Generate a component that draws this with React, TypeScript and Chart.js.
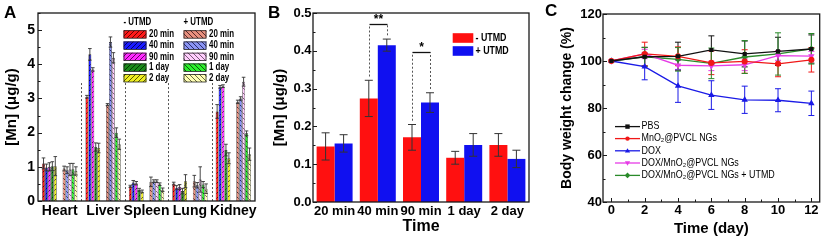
import React, { useEffect, useRef } from 'react';
import { Chart, registerables } from 'chart.js';
Chart.register(...registerables);

const FONT = "'Liberation Sans', Arial, Helvetica, sans-serif";

// ---------------- Panel A data ----------------
const organLabels = ['Heart', 'Liver', 'Spleen', 'Lung', 'Kidney'];
const timeNames = ['20 min', '40 min', '90 min', '1 day', '2 day'];

const minus20 = [1.10, 3.05, 0.43, 0.51, 2.62];
const minus40 = [0.98, 4.29, 0.54, 0.39, 3.34];
const minus90 = [1.00, 3.85, 0.52, 0.41, 3.36];
const minus1d = [1.02, 1.58, 0.33, 0.29, 1.49];
const minus2d = [1.02, 1.55, 0.28, 0.58, 1.25];
const minus20Err = [0.16, 0.04, 0.03, 0.04, 0.20];
const minus40Err = [0.10, 0.17, 0.06, 0.06, 0.04];
const minus90Err = [0.12, 0.05, 0.05, 0.07, 0.04];
const minus1dErr = [0.13, 0.12, 0.04, 0.08, 0.17];
const minus2dErr = [0.28, 0.14, 0.04, 0.19, 0.16];

const plus20 = [0.95, 2.82, 0.56, 0.58, 2.90];
const plus40 = [0.90, 4.65, 0.58, 0.46, 3.00];
const plus90 = [0.92, 4.19, 0.58, 0.63, 3.49];
const plus1d = [0.93, 2.00, 0.49, 0.48, 1.98];
const plus2d = [0.88, 1.66, 0.33, 0.36, 1.37];
const plus20Err = [0.07, 0.03, 0.14, 0.17, 0.05];
const plus40Err = [0.10, 0.15, 0.04, 0.08, 0.05];
const plus90Err = [0.18, 0.15, 0.04, 0.37, 0.13];
const plus1dErr = [0.17, 0.14, 0.04, 0.09, 0.07];
const plus2dErr = [0.12, 0.15, 0.05, 0.14, 0.18];

const minusSeries = [minus20, minus40, minus90, minus1d, minus2d];
const minusErrors = [minus20Err, minus40Err, minus90Err, minus1dErr, minus2dErr];
const plusSeries = [plus20, plus40, plus90, plus1d, plus2d];
const plusErrors = [plus20Err, plus40Err, plus90Err, plus1dErr, plus2dErr];

const minusFill = ['#ff1a1a', '#1a1aff', '#ff2bff', '#1a8a1a', '#eeee22'];
const minusHatch = ['#6a0000', '#00006a', '#6a006a', '#003a00', '#5a5a00'];
const plusFill = ['#e8907e', '#8a94f4', '#ffcdfc', '#2cf02c', '#ffffb4'];
const plusHatch = ['#5a2a2a', '#2a2a6a', '#7a5a7a', '#0a5a0a', '#6a6a40'];

// ---------------- Panel B data ----------------
const bMinus = [0.147, 0.274, 0.171, 0.117, 0.151];
const bMinusErr = [0.036, 0.048, 0.034, 0.017, 0.030];
const bPlus = [0.155, 0.415, 0.263, 0.151, 0.114];
const bPlusErr = [0.023, 0.016, 0.026, 0.030, 0.023];
const sigIndex = [1, 2];
const sigText = ['**', '*'];
const sigLevel = [0.470, 0.397];

// ---------------- Panel C data ----------------
const days = [0, 2, 4, 6, 8, 10, 12];
const cTicks = [0, 2, 4, 6, 8, 10, 12];
const pbs = [100, 101.8, 102.0, 104.7, 103.0, 104.1, 105.1];
const pbsErr = [0, 4, 6, 6, 5.5, 6, 6];
const mno2 = [100, 103.0, 102.0, 99.2, 99.8, 98.8, 100.5];
const mno2Err = [0, 5, 4, 5, 5, 5.5, 5.2];
const dox = [100, 97.6, 89.4, 85.5, 83.5, 83.3, 82.0];
const doxErr = [0, 5.6, 7.0, 6.1, 5.8, 4.9, 5.2];
const doxMno2 = [100, 103.0, 98.2, 97.9, 98.4, 102.3, 102.1];
const doxMno2Err = [0, 2, 2, 2, 2.5, 2, 2];
const doxMno2Utmd = [100, 101.8, 100.7, 99.0, 101.7, 103.0, 105.2];
const doxMno2UtmdErr = [0, 4, 5, 6.5, 7, 9, 6.5];

const cLabels = ['PBS', 'MnO\u2082@PVCL NGs', 'DOX', 'DOX/MnO\u2082@PVCL NGs', 'DOX/MnO\u2082@PVCL NGs + UTMD'];
const cColors = ['#111111', '#f01818', '#1a1ae6', '#e63ce6', '#2a8a2a'];
const cStyles = ['rect', 'circle', 'triangle', 'triangleDown', 'rectRot'];
const cValues = [pbs, mno2, dox, doxMno2, doxMno2Utmd];
const cErrors = [pbsErr, mno2Err, doxErr, doxMno2Err, doxMno2UtmdErr];

// ---------------- helpers ----------------
function makePattern(bg: string, line: string, dir: number): CanvasPattern | string {
  const s = 5;
  const c = document.createElement('canvas');
  c.width = s; c.height = s;
  const g = c.getContext('2d');
  if (!g) return bg;
  g.fillStyle = bg; g.fillRect(0, 0, s, s);
  g.strokeStyle = line; g.lineWidth = 1;
  g.beginPath();
  if (dir > 0) {
    g.moveTo(0, s); g.lineTo(s, 0);
    g.moveTo(-1, 1); g.lineTo(1, -1);
    g.moveTo(s - 1, s + 1); g.lineTo(s + 1, s - 1);
  } else {
    g.moveTo(0, 0); g.lineTo(s, s);
    g.moveTo(s - 1, -1); g.lineTo(s + 1, 1);
    g.moveTo(-1, s - 1); g.lineTo(1, s + 1);
  }
  g.stroke();
  return g.createPattern(c, 'repeat') || bg;
}

function squeezedText(ctx: CanvasRenderingContext2D, text: string, x: number, y: number, font: string, sx: number, align: CanvasTextAlign = 'left') {
  ctx.save();
  ctx.font = font;
  ctx.fillStyle = '#000';
  ctx.textBaseline = 'middle';
  ctx.textAlign = align;
  ctx.translate(x, y);
  ctx.scale(sx, 1);
  ctx.fillText(text, 0, 0);
  ctx.restore();
}

function panelLetter(ctx: CanvasRenderingContext2D, t: string, x: number, y: number) {
  ctx.save();
  ctx.font = `bold 17px ${FONT}`;
  ctx.fillStyle = '#000';
  ctx.textBaseline = 'alphabetic';
  ctx.textAlign = 'left';
  ctx.fillText(t, x, y);
  ctx.restore();
}

function frameAndTicks(chart: any, yMinor: number, yMajor: number, xMajor: number[] = [], xMinor: number[] = []) {
  const { ctx, chartArea: a } = chart;
  const ys = chart.scales.y, xs = chart.scales.x;
  ctx.save();
  ctx.strokeStyle = '#1a1a1a';
  ctx.lineWidth = 1.3;
  ctx.strokeRect(a.left, a.top, a.right - a.left, a.bottom - a.top);
  ctx.lineWidth = 1;
  ctx.beginPath();
  const n = Math.round((ys.max - ys.min) / yMinor);
  for (let k = 0; k <= n; k++) {
    const v = ys.min + k * yMinor;
    const r = v / yMajor;
    const major = Math.abs(r - Math.round(r)) < 1e-6;
    const p = Math.round(ys.getPixelForValue(v)) + 0.5;
    ctx.moveTo(a.left, p); ctx.lineTo(a.left + (major ? 4 : 2.5), p);
  }
  xMajor.forEach((v) => { const p = Math.round(xs.getPixelForValue(v)) + 0.5; ctx.moveTo(p, a.bottom); ctx.lineTo(p, a.bottom - 4); });
  xMinor.forEach((v) => { const p = Math.round(xs.getPixelForValue(v)) + 0.5; ctx.moveTo(p, a.bottom); ctx.lineTo(p, a.bottom - 2.5); });
  ctx.stroke();
  ctx.restore();
}

function drawErrors(chart: any, capHalf: number, color: string | null, lw: number) {
  const { ctx } = chart;
  const ys = chart.scales.y;
  ctx.save();
  ctx.lineWidth = lw;
  chart.data.datasets.forEach((ds: any, i: number) => {
    if (!ds.errors) return;
    const meta = chart.getDatasetMeta(i);
    ctx.strokeStyle = color || ds.borderColor;
    meta.data.forEach((el: any, j: number) => {
      const raw = ds.data[j];
      const v = raw && typeof raw === 'object' ? raw.y : raw;
      const e = ds.errors[j];
      if (v == null || !e) return;
      const x = el.x;
      const yt = ys.getPixelForValue(v + e);
      const yb = ys.getPixelForValue(v - e);
      ctx.beginPath();
      ctx.moveTo(x, yt); ctx.lineTo(x, yb);
      ctx.moveTo(x - capHalf, yt); ctx.lineTo(x + capHalf, yt);
      ctx.moveTo(x - capHalf, yb); ctx.lineTo(x + capHalf, yb);
      ctx.stroke();
    });
  });
  ctx.restore();
}

function drawMarker(ctx: CanvasRenderingContext2D, style: string, x: number, y: number, r: number, color: string) {
  ctx.save();
  ctx.fillStyle = color;
  ctx.beginPath();
  if (style === 'rect') {
    ctx.rect(x - r, y - r, 2 * r, 2 * r);
  } else if (style === 'circle') {
    ctx.arc(x, y, r, 0, Math.PI * 2);
  } else if (style === 'triangle') {
    ctx.moveTo(x, y - r * 1.2); ctx.lineTo(x + r * 1.2, y + r * 0.8); ctx.lineTo(x - r * 1.2, y + r * 0.8); ctx.closePath();
  } else if (style === 'triangleDown') {
    ctx.moveTo(x, y + r * 1.2); ctx.lineTo(x + r * 1.2, y - r * 0.8); ctx.lineTo(x - r * 1.2, y - r * 0.8); ctx.closePath();
  } else {
    ctx.moveTo(x, y - r * 1.3); ctx.lineTo(x + r * 1.3, y); ctx.lineTo(x, y + r * 1.3); ctx.lineTo(x - r * 1.3, y); ctx.closePath();
  }
  ctx.fill();
  ctx.restore();
}

const tickFont = (size: number) => ({ family: FONT, weight: 'bold' as const, size });
const noGrid = { display: false, drawTicks: false };

// ---------------- chart builders ----------------
function buildA(canvas: HTMLCanvasElement) {
  const datasets: any[] = [];
  minusSeries.forEach((d, i) => datasets.push({
    label: '- UTMD ' + timeNames[i], data: d, errors: minusErrors[i],
    backgroundColor: makePattern(minusFill[i], minusHatch[i], 1), borderColor: '#222', borderWidth: 0.6,
    legendFill: makePattern(minusFill[i], minusHatch[i], 1),
  }));
  datasets.push({ label: '', data: organLabels.map(() => null) });
  datasets.push({ label: '', data: organLabels.map(() => null) });
  plusSeries.forEach((d, i) => datasets.push({
    label: '+ UTMD ' + timeNames[i], data: d, errors: plusErrors[i],
    backgroundColor: makePattern(plusFill[i], plusHatch[i], -1), borderColor: '#222', borderWidth: 0.6,
    legendFill: makePattern(plusFill[i], plusHatch[i], -1),
  }));

  const plugin = {
    id: 'panelA',
    afterDatasetsDraw(chart: any) {
      const { ctx, chartArea: a } = chart;
      const xs = chart.scales.x, ys = chart.scales.y;
      ctx.save();
      ctx.strokeStyle = '#555';
      ctx.lineWidth = 1;
      ctx.setLineDash([2, 2]);
      ctx.beginPath();
      for (let i = 0; i < organLabels.length - 1; i++) {
        const x = Math.round((xs.getPixelForValue(i) + xs.getPixelForValue(i + 1)) / 2) + 0.5;
        ctx.moveTo(x, ys.getPixelForValue(3.45));
        ctx.lineTo(x, a.bottom);
      }
      ctx.stroke();
      ctx.restore();
      drawErrors(chart, 1.8, '#333', 0.9);
      frameAndTicks(chart, 0.5, 1);
      const headFont = `bold 11px ${FONT}`;
      const cols = [
        { x: 123.5, head: '- UTMD', sets: datasets.slice(0, 5) },
        { x: 183.5, head: '+ UTMD', sets: datasets.slice(7, 12) },
      ];
      const rowY = [34.2, 45.4, 56.6, 67.4, 78.0];
      cols.forEach((c) => {
        squeezedText(ctx, c.head, c.x, 21.8, headFont, 0.72);
        c.sets.forEach((ds: any, r: number) => {
          ctx.save();
          ctx.fillStyle = ds.legendFill;
          ctx.fillRect(c.x, rowY[r] - 4, 23, 8);
          ctx.strokeStyle = '#222';
          ctx.lineWidth = 0.8;
          ctx.strokeRect(c.x + 0.5, rowY[r] - 4 + 0.5, 22, 7.5);
          ctx.restore();
          squeezedText(ctx, timeNames[r], c.x + 25.5, rowY[r], headFont, 0.72);
        });
      });
      panelLetter(ctx, 'A', 4, 18);
    },
  };

  return new Chart(canvas, {
    type: 'bar',
    data: { labels: organLabels, datasets },
    options: {
      animation: false, responsive: false, maintainAspectRatio: false,
      layout: { padding: { left: 0, right: 13, top: 13, bottom: 0 } },
      datasets: { bar: { categoryPercentage: 0.813, barPercentage: 1.0 } },
      plugins: { legend: { display: false }, tooltip: { enabled: false } },
      scales: {
        x: {
          grid: noGrid, border: { display: false },
          ticks: { font: tickFont(14), color: '#000', padding: 2, maxRotation: 0, autoSkip: false },
          afterFit: (s: any) => { s.height = 42; },
        },
        y: {
          min: 0, max: 5.5,
          grid: noGrid, border: { display: false },
          ticks: { stepSize: 1, includeBounds: false, font: tickFont(14), color: '#000', padding: 3 },
          title: { display: true, text: '[Mn] (\u03bcg/g)', font: tickFont(15), color: '#000', padding: { top: 3, bottom: 0 } },
          afterFit: (s: any) => { s.width = 38; },
        },
      },
    } as any,
    plugins: [plugin],
  });
}

function buildB(canvas: HTMLCanvasElement) {
  const datasets: any[] = [
    { label: '- UTMD', data: bMinus, errors: bMinusErr, backgroundColor: '#ff1010', borderWidth: 0 },
    { label: '+ UTMD', data: bPlus, errors: bPlusErr, backgroundColor: '#1010f0', borderWidth: 0 },
  ];
  const plugin = {
    id: 'panelB',
    afterDatasetsDraw(chart: any) {
      const { ctx } = chart;
      const ys = chart.scales.y;
      drawErrors(chart, 4, '#333', 1);
      sigIndex.forEach((idx, k) => {
        const e0 = chart.getDatasetMeta(0).data[idx];
        const e1 = chart.getDatasetMeta(1).data[idx];
        const yl = Math.round(ys.getPixelForValue(sigLevel[k])) + 0.5;
        const y0 = ys.getPixelForValue(bMinus[idx] + bMinusErr[idx] + 0.01);
        const y1 = ys.getPixelForValue(bPlus[idx] + bPlusErr[idx] + 0.01);
        const x0 = Math.round(e0.x) + 0.5, x1 = Math.round(e1.x) + 0.5;
        ctx.save();
        ctx.strokeStyle = '#555';
        ctx.lineWidth = 1;
        ctx.setLineDash([2, 2]);
        ctx.beginPath();
        ctx.moveTo(x0, y0); ctx.lineTo(x0, yl);
        ctx.moveTo(x1, y1); ctx.lineTo(x1, yl);
        ctx.stroke();
        ctx.setLineDash([]);
        ctx.strokeStyle = '#111';
        ctx.lineWidth = 1.3;
        ctx.beginPath();
        ctx.moveTo(x0, yl); ctx.lineTo(x1, yl);
        ctx.stroke();
        ctx.restore();
        squeezedText(ctx, sigText[k], (x0 + x1) / 2, yl - 5, `bold 12px ${FONT}`, 1, 'center');
      });
      frameAndTicks(chart, 0.05, 0.1);
      const rows = [38.0, 51.0];
      datasets.forEach((ds, r) => {
        ctx.save();
        ctx.fillStyle = ds.backgroundColor;
        ctx.fillRect(184.7, rows[r] - 4.8, 20.6, 9.6);
        ctx.restore();
        squeezedText(ctx, ds.label, 207.5, rows[r], `bold 11.5px ${FONT}`, 0.77);
      });
      panelLetter(ctx, 'B', 0, 18);
    },
  };
  return new Chart(canvas, {
    type: 'bar',
    data: { labels: timeNames, datasets },
    options: {
      animation: false, responsive: false, maintainAspectRatio: false,
      layout: { padding: { left: 0, right: 11, top: 13, bottom: 0 } },
      datasets: { bar: { categoryPercentage: 0.833, barPercentage: 1.0 } },
      plugins: { legend: { display: false }, tooltip: { enabled: false } },
      scales: {
        x: {
          grid: noGrid, border: { display: false },
          ticks: { font: tickFont(13), color: '#000', padding: 2, maxRotation: 0, autoSkip: false },
          title: { display: true, text: 'Time', font: tickFont(16), color: '#000', padding: { top: 0, bottom: 6.7 } },
          afterFit: (s: any) => { s.height = 41; },
        },
        y: {
          min: 0, max: 0.5,
          grid: noGrid, border: { display: false },
          ticks: { stepSize: 0.1, font: tickFont(13), color: '#000', padding: 1.5, callback: (v: any) => Number(v).toFixed(1) },
          title: { display: true, text: '[Mn] (\u03bcg/g)', font: tickFont(15), color: '#000', padding: { top: 2.5, bottom: 0 } },
          afterFit: (s: any) => { s.width = 45; },
        },
      },
    } as any,
    plugins: [plugin],
  });
}

function buildC(canvas: HTMLCanvasElement) {
  const datasets: any[] = cValues.map((vals, i) => ({
    label: cLabels[i],
    data: days.map((d, j) => ({ x: d, y: vals[j] })),
    errors: cErrors[i],
    borderColor: cColors[i],
    backgroundColor: cColors[i],
    pointBackgroundColor: cColors[i],
    pointBorderColor: cColors[i],
    pointStyle: cStyles[i] === 'triangleDown' ? 'triangle' : cStyles[i],
    pointRotation: cStyles[i] === 'triangleDown' ? 180 : 0,
    pointRadius: cStyles[i] === 'rect' ? 2 : 2.4,
    borderWidth: 1.3,
    tension: 0,
    fill: false,
  }));
  const plugin = {
    id: 'panelC',
    beforeDatasetsDraw(chart: any) {
      drawErrors(chart, 3, null, 1);
    },
    afterDatasetsDraw(chart: any) {
      const { ctx } = chart;
      frameAndTicks(chart, 10, 20, cTicks, [1, 3, 5, 7, 9, 11]);
      const rowY = [126.6, 138.6, 150.8, 163.0, 175.4];
      datasets.forEach((ds, r) => {
        ctx.save();
        ctx.strokeStyle = ds.borderColor;
        ctx.lineWidth = 1.3;
        ctx.beginPath();
        ctx.moveTo(75, rowY[r]); ctx.lineTo(100, rowY[r]);
        ctx.stroke();
        ctx.restore();
        drawMarker(ctx, cStyles[r], 87.5, rowY[r], 2.2, ds.borderColor);
        squeezedText(ctx, ds.label, 101.5, rowY[r], `10.5px ${FONT}`, 0.85);
      });
      panelLetter(ctx, 'C', 5, 16);
    },
  };
  return new Chart(canvas, {
    type: 'line',
    data: { datasets },
    options: {
      animation: false, responsive: false, maintainAspectRatio: false,
      layout: { padding: { left: 0, right: 3, top: 14, bottom: 0 } },
      plugins: { legend: { display: false }, tooltip: { enabled: false } },
      scales: {
        x: {
          type: 'linear', min: -0.5, max: 12.5,
          grid: noGrid, border: { display: false },
          afterBuildTicks: (s: any) => { s.ticks = cTicks.map((v) => ({ value: v })); },
          ticks: { font: tickFont(13), color: '#000', padding: 1, maxRotation: 0, autoSkip: false },
          title: { display: true, text: 'Time (day)', font: tickFont(15), color: '#000', padding: { top: 0, bottom: 4.7 } },
          afterFit: (s: any) => { s.height = 41; },
        },
        y: {
          min: 40, max: 120,
          grid: noGrid, border: { display: false },
          ticks: { stepSize: 20, font: tickFont(13), color: '#000', padding: 1 },
          title: { display: true, text: 'Body weight change (%)', font: tickFont(14), color: '#000', padding: { top: 18.6, bottom: 0 } },
          afterFit: (s: any) => { s.width = 63; },
        },
      },
    } as any,
    plugins: [plugin],
  });
}

export default function App() {
  const refA = useRef<HTMLCanvasElement>(null);
  const refB = useRef<HTMLCanvasElement>(null);
  const refC = useRef<HTMLCanvasElement>(null);

  useEffect(() => {
    const charts: Chart[] = [];
    if (refA.current) charts.push(buildA(refA.current));
    if (refB.current) charts.push(buildB(refB.current));
    if (refC.current) charts.push(buildC(refC.current));
    return () => { charts.forEach((c) => c.destroy()); };
  }, []);

  const cv = (left: number, width: number): React.CSSProperties => ({
    position: 'absolute', left, top: 0, width, height: 243, display: 'block',
  });

  return (
    <div style={{ position: 'absolute', left: 0, top: 0, width: 825, height: 243, background: '#fff', overflow: 'hidden' }}>
      <canvas ref={refA} width={268} height={243} style={cv(0, 268)} />
      <canvas ref={refB} width={272} height={243} style={cv(268, 272)} />
      <canvas ref={refC} width={285} height={243} style={cv(540, 285)} />
    </div>
  );
}
